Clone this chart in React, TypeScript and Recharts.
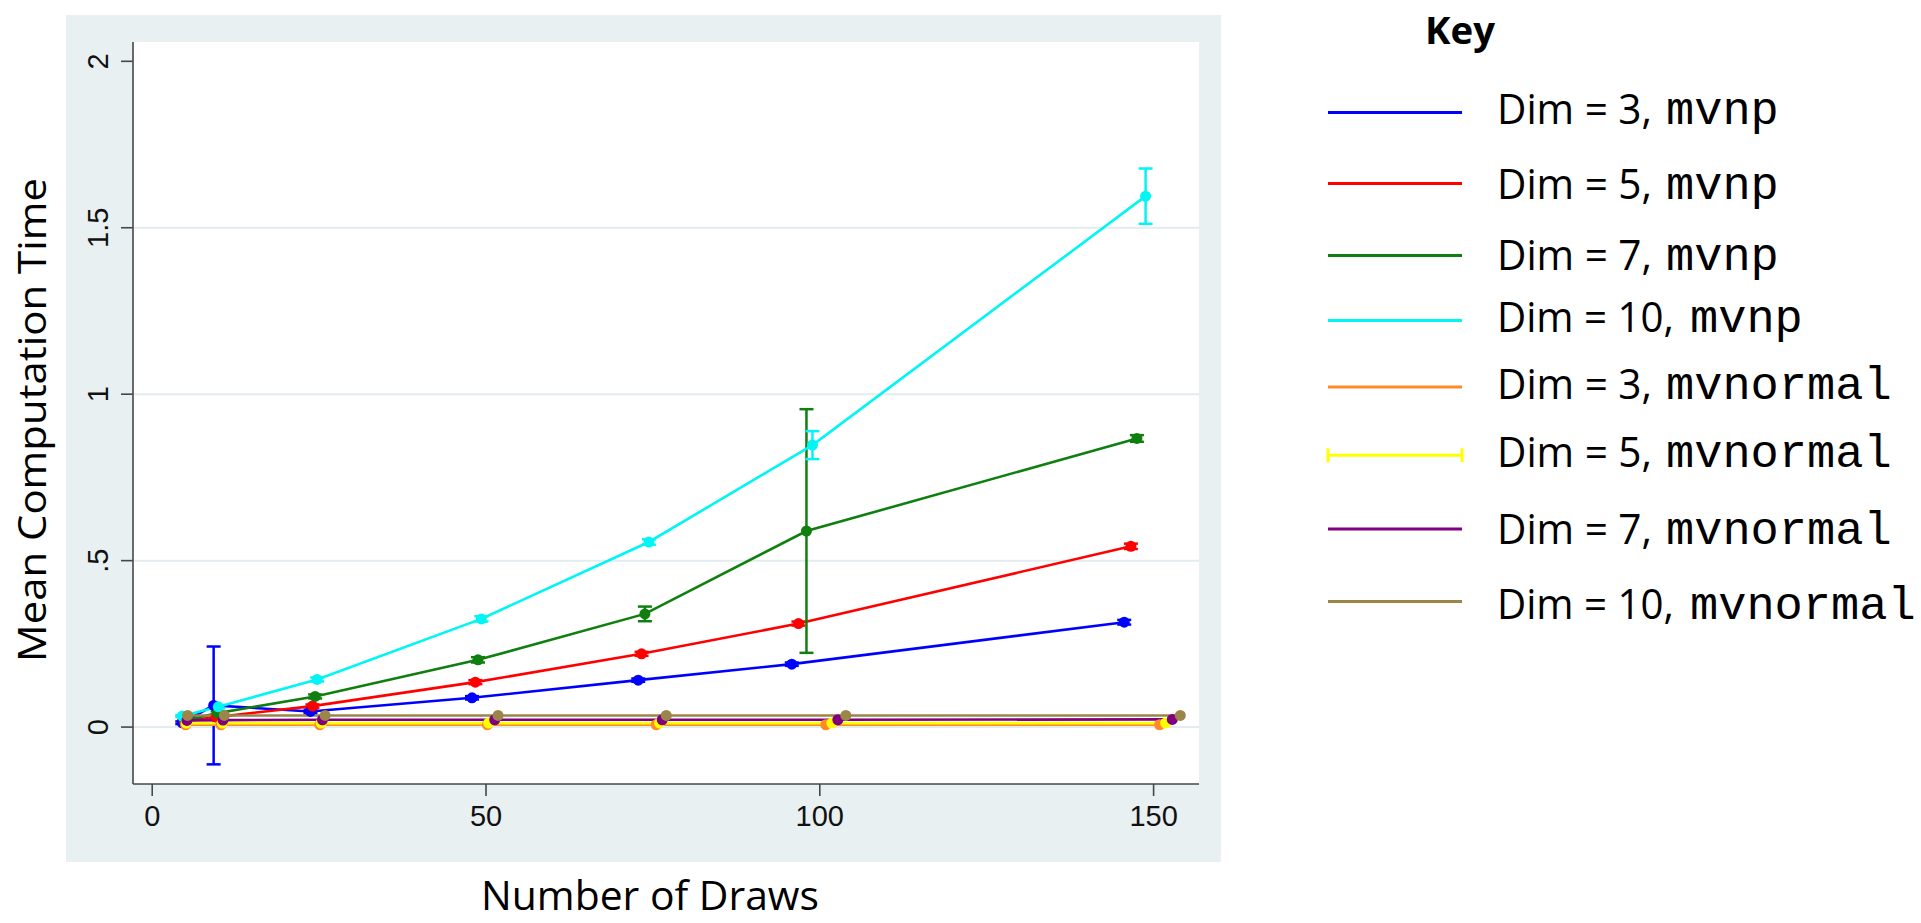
import React from 'react';
import { LineChart, Line, XAxis, YAxis, ErrorBar, ReferenceLine, CartesianGrid } from 'recharts';

// x positions are slightly staggered per series (as in the original Stata plot)
const X_D3_MVNP = [4.5, 9.2, 23.7, 47.9, 72.8, 95.8, 145.6];
const Y_D3_MVNP = [0.013, 0.065, 0.047, 0.088, 0.141, 0.189, 0.315];
const E_D3_MVNP = [0.004, 0.177, 0.005, 0.005, 0.005, 0.005, 0.007];

const X_D5_MVNP = [4.8, 9.6, 24.0, 48.4, 73.3, 96.8, 146.6];
const Y_D5_MVNP = [0.018, 0.03, 0.063, 0.135, 0.22, 0.311, 0.543];
const E_D5_MVNP = [0.003, 0.004, 0.005, 0.006, 0.006, 0.006, 0.008];

const X_D7_MVNP = [4.9, 9.8, 24.4, 48.8, 73.8, 98.0, 147.5];
const Y_D7_MVNP = [0.02, 0.042, 0.092, 0.202, 0.34, 0.589, 0.867];
const E_D7_MVNP = [0.003, 0.005, 0.006, 0.008, 0.022, 0.366, 0.01];

const X_D10_MVNP = [4.5, 9.9, 24.7, 49.3, 74.4, 98.9, 148.8];
const Y_D10_MVNP = [0.033, 0.061, 0.143, 0.325, 0.556, 0.847, 1.595];
const E_D10_MVNP = [0.003, 0.005, 0.006, 0.008, 0.008, 0.042, 0.083];

const X_D3_MVN = [5.0, 10.3, 25.1, 50.2, 75.5, 100.9, 150.9];
const Y_D3_MVN = [0.007, 0.007, 0.007, 0.007, 0.007, 0.007, 0.007];

const X_D5_MVN = [5.1, 10.5, 25.3, 50.4, 76.0, 101.8, 151.8];
const Y_D5_MVN = [0.012, 0.012, 0.012, 0.012, 0.012, 0.012, 0.012];

const X_D7_MVN = [5.2, 10.6, 25.5, 51.3, 76.4, 102.7, 152.8];
const Y_D7_MVN = [0.02, 0.021, 0.022, 0.022, 0.022, 0.022, 0.023];

const X_D10_MVN = [5.3, 10.8, 25.9, 51.8, 77.0, 103.9, 154.0];
const Y_D10_MVN = [0.035, 0.035, 0.035, 0.035, 0.035, 0.035, 0.035];

const X_TICKS = [0, 50, 100, 150];
const Y_TICKS = [0, 0.5, 1, 1.5, 2];
const Y_TICK_LABELS = ['0', '.5', '1', '1.5', '2'];
const GRID_VALUES = [0, 0.5, 1, 1.5];

const LEGEND_DIMS = ['3', '5', '7', '10', '3', '5', '7', '10'];
const LEGEND_FUNCS = ['mvnp', 'mvnp', 'mvnp', 'mvnp', 'mvnormal', 'mvnormal', 'mvnormal', 'mvnormal'];

const COLORS = ['#0000ff', '#ff0000', '#0f7f0f', '#00f5f5', '#ff8a28', '#ffff00', '#800080', '#9b8548'];

const rows = (xs: number[], ys: number[], es?: number[]) =>
  xs.map((x, i) => ({ x, y: ys[i], err: es ? es[i] : 0 }));

const SERIES = [
  { data: rows(X_D3_MVNP, Y_D3_MVNP, E_D3_MVNP), err: true },
  { data: rows(X_D5_MVNP, Y_D5_MVNP, E_D5_MVNP), err: true },
  { data: rows(X_D7_MVNP, Y_D7_MVNP, E_D7_MVNP), err: true },
  { data: rows(X_D10_MVNP, Y_D10_MVNP, E_D10_MVNP), err: true },
  { data: rows(X_D3_MVN, Y_D3_MVN), err: false },
  { data: rows(X_D5_MVN, Y_D5_MVN), err: false },
  { data: rows(X_D7_MVN, Y_D7_MVN), err: false },
  { data: rows(X_D10_MVN, Y_D10_MVN), err: false },
];

const SANS = '"Open Sans", "Noto Sans", sans-serif';
const TICK_FONT = '"Liberation Sans", Arial, sans-serif';
const AXIS = '#474747';
const PANEL = '#e8f0f2';
const GRID = '#e3ecef';

// legend layout (pixels)
const LEG_LINE_Y = [112.6, 183.4, 255.4, 320.4, 387.0, 455.3, 529.0, 601.4];
const LEG_TEXT_Y = [124.2, 198.7, 269.9, 332.4, 399.4, 466.9, 544.3, 618.8];

function XTick({ x, payload }: any) {
  return (
    <text x={x} y={826} textAnchor="middle" fontFamily={TICK_FONT} fontSize={29} fill="#111">
      {payload.value}
    </text>
  );
}

function YTick({ y, payload }: any) {
  const i = Y_TICKS.indexOf(payload.value);
  return (
    <text x={98} y={y} transform={`rotate(-90, 98, ${y})`} textAnchor="middle" dominantBaseline="central"
      fontFamily={TICK_FONT} fontSize={29} fill="#111">
      {Y_TICK_LABELS[i]}
    </text>
  );
}

function Key() {
  return (
    <svg width={1921} height={923} style={{ position: 'absolute', left: 0, top: 0, pointerEvents: 'none' }}>
      <text x={1460} y={43.5} textAnchor="middle" fontFamily={SANS} fontWeight={700} fontSize={37}
        textLength={70} lengthAdjust="spacingAndGlyphs">Key</text>
      {LEGEND_DIMS.map((d, i) => {
        const ly = LEG_LINE_Y[i];
        const ty = LEG_TEXT_Y[i];
        const wide = d.length > 1;
        return (
          <g key={i}>
            <line x1={1328} x2={1462} y1={ly} y2={ly} stroke={COLORS[i]} strokeWidth={3} />
            {i === 5 && (
              <>
                <line x1={1328} x2={1328} y1={ly - 7} y2={ly + 7} stroke={COLORS[i]} strokeWidth={3} />
                <line x1={1462} x2={1462} y1={ly - 7} y2={ly + 7} stroke={COLORS[i]} strokeWidth={3} />
              </>
            )}
            <text x={1497} y={ty} fontFamily={SANS} fontSize={42} fill="#000"
              textLength={wide ? 177 : 155} lengthAdjust="spacingAndGlyphs">{`Dim = ${d},`}</text>
            <text x={wide ? 1690 : 1666} y={ty} fontFamily='"Liberation Mono", "Courier New", monospace'
              fontSize={47} fill="#000">{LEGEND_FUNCS[i]}</text>
          </g>
        );
      })}
    </svg>
  );
}

export default function App() {
  return (
    <div style={{ position: 'relative', width: 1921, height: 923, background: '#fff' }}>
      <style>{'body{margin:0}'}</style>
      <div style={{ position: 'absolute', left: 66, top: 15, width: 1155, height: 847, background: PANEL }} />
      <div style={{ position: 'absolute', left: 0, top: 0 }}>
        <LineChart width={1921} height={923} margin={{ top: 42, right: 722, bottom: 79, left: 63 }}>
          <CartesianGrid fill="#fff" horizontal={false} vertical={false} />
          <XAxis
            type="number" dataKey="x" domain={[-2.88, 156.8]} ticks={X_TICKS} allowDataOverflow
            tick={<XTick />} tickSize={12} height={60}
            axisLine={{ stroke: AXIS, strokeWidth: 1.6 }} tickLine={{ stroke: AXIS, strokeWidth: 1.6 }}
          />
          <YAxis
            type="number" domain={[-0.171, 2.058]} ticks={Y_TICKS} allowDataOverflow
            tick={<YTick />} tickSize={12} width={70}
            axisLine={{ stroke: AXIS, strokeWidth: 1.6 }} tickLine={{ stroke: AXIS, strokeWidth: 1.6 }}
          />
          {GRID_VALUES.map(v => (
            <ReferenceLine key={v} y={v} stroke={GRID} strokeWidth={2} />
          ))}
          {SERIES.map((s, i) => (
            <Line
              key={i} data={s.data} dataKey="y" type="linear" stroke={COLORS[i]} strokeWidth={2.6}
              dot={{ r: 5.5, fill: COLORS[i], stroke: COLORS[i], strokeWidth: 0 }}
              activeDot={false} isAnimationActive={false}
            >
              {s.err && (
                <ErrorBar dataKey="err" direction="y" width={7} stroke={COLORS[i]} strokeWidth={2.5} />
              )}
            </Line>
          ))}
        </LineChart>
      </div>
      <svg width={1921} height={923} style={{ position: 'absolute', left: 0, top: 0, pointerEvents: 'none' }}>
        <text x={46} y={420} transform="rotate(-90, 46, 420)" textAnchor="middle" fontFamily={SANS} fontSize={38}
          textLength={484} lengthAdjust="spacingAndGlyphs">Mean Computation Time</text>
        <text x={650} y={910} textAnchor="middle" fontFamily={SANS} fontSize={40}
          textLength={338} lengthAdjust="spacingAndGlyphs">Number of Draws</text>
      </svg>
      <Key />
    </div>
  );
}
